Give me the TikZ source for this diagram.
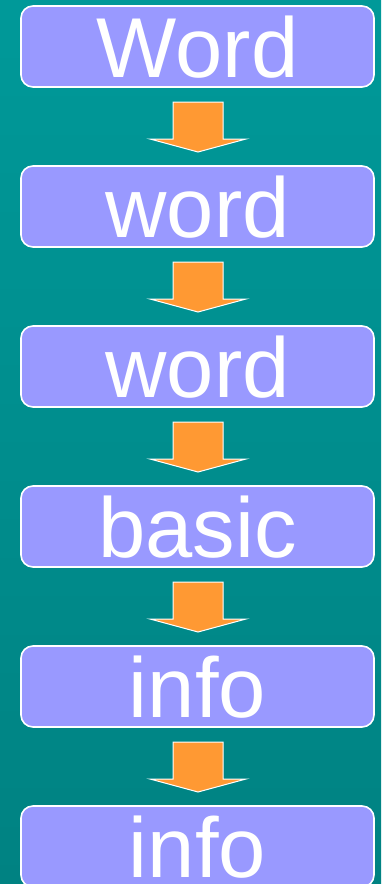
\documentclass[tikz,border=0pt]{standalone}
\usepackage{fontspec}
\setmainfont{Liberation Sans}
\definecolor{boxfill}{HTML}{9999FF}
\definecolor{arrowfill}{HTML}{FF9933}
\definecolor{bgtop}{HTML}{009999}
\definecolor{bgbot}{HTML}{008282}
\tikzset{
  wordbox/.style={draw=white, line width=1.6pt, fill=boxfill, rounded corners=12pt},
  wordtext/.style={text=white, font=\fontsize{85}{85}\selectfont, anchor=base, inner sep=0pt},
  downarrow/.style={draw=white, line width=1pt, fill=arrowfill, line join=miter}
}
\begin{document}
\begin{tikzpicture}[x=1pt,y=-1pt]
\useasboundingbox (0,0) rectangle (381,884);
\shade[top color=bgtop, bottom color=bgbot] (0,0) rectangle (381,884);
\foreach \i/\t in {0/Word,1/word,2/word,3/basic,4/info,5/info}{
  \pgfmathsetmacro{\top}{6+160*\i}
  \draw[wordbox] (21,\top) rectangle (374,\top+81);
  \node[wordtext] (t\i) at (197.5,\top+71.5) {\t};
}
\foreach \i in {0,...,4}{
  \pgfmathsetmacro{\y}{102+160*\i}
  \draw[downarrow] (173,\y) -- (223,\y) -- (223,\y+37) -- (246,\y+37) -- (198,\y+50) -- (150,\y+37) -- (173,\y+37) -- cycle;
}
\end{tikzpicture}
\end{document}
